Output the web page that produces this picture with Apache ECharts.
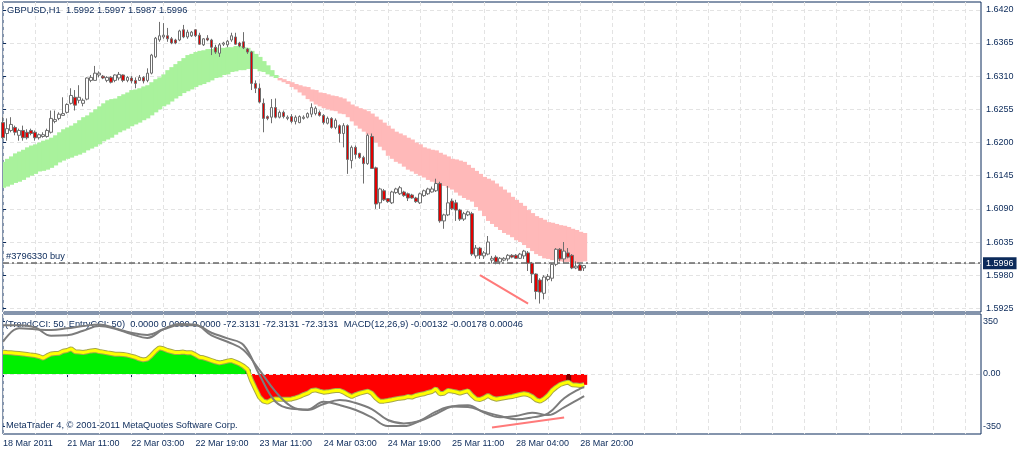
<!DOCTYPE html>
<html lang="en">
<head>
<meta charset="UTF-8">
<title>GBPUSD,H1</title>
<script src="https://cdn.jsdelivr.net/npm/echarts@6.0.0/dist/echarts.min.js"></script>
<style>
  html, body { margin: 0; padding: 0; background: #fff; }
  #chart { width: 1018px; height: 451px; }
</style>
</head>
<body>
<div id="chart"></div>
<script>
// ---- data ----
var symbolName = 'GBPUSD,H1';
var tickLabels = ['18 Mar 2011', '21 Mar 11:00', '22 Mar 03:00', '22 Mar 19:00', '23 Mar 11:00',
                  '24 Mar 03:00', '24 Mar 19:00', '25 Mar 11:00', '28 Mar 04:00', '28 Mar 20:00'];
var priceTicks = { min: 1.5925, max: 1.6420, step: 0.0055 };
var cciTicks = { min: -350, max: 350, step: 350 };

var candleOpen = [
  1.6233,1.6215,1.6220,1.6225,1.6212,1.6220,1.6217,1.6220,1.6217,1.6208,
  1.6210,1.6210,1.6217,1.6235,1.6240,1.6245,1.6250,1.6265,1.6275,1.6270,
  1.6265,1.6272,1.6303,1.6303,1.6312,1.6310,1.6303,1.6308,1.6303,1.6307,
  1.6312,1.6303,1.6307,1.6303,1.6303,1.6308,1.6303,1.6315,1.6342,1.6370,
  1.6375,1.6377,1.6372,1.6370,1.6370,1.6387,1.6375,1.6377,1.6387,1.6378,
  1.6362,1.6373,1.6370,1.6358,1.6348,1.6363,1.6362,1.6370,1.6375,1.6365,
  1.6367,1.6355,1.6350,1.6298,1.6290,1.6265,1.6243,1.6242,1.6258,1.6242,
  1.6250,1.6240,1.6243,1.6235,1.6233,1.6240,1.6242,1.6247,1.6248,1.6250,
  1.6245,1.6232,1.6240,1.6225,1.6228,1.6215,1.6228,1.6170,1.6192,1.6182,
  1.6175,1.6165,1.6210,1.6158,1.6100,1.6120,1.6107,1.6100,1.6117,1.6115,
  1.6118,1.6115,1.6113,1.6108,1.6100,1.6112,1.6115,1.6118,1.6120,1.6132,
  1.6070,1.6080,1.6103,1.6100,1.6088,1.6073,1.6080,1.6082,1.6012,1.6025,
  1.6012,1.6015,1.6005,1.6010,1.6002,1.6005,1.6007,1.6013,1.6013,1.6008,
  1.6012,1.6017,1.6000,1.5982,1.5972,1.5950,1.5973,1.5975,1.5998,1.6023,
  1.6007,1.6017,1.6013,1.5992,1.5997,1.5992
];
var candleClose = [
  1.6208,1.6223,1.6230,1.6217,1.6220,1.6208,1.6208,1.6215,1.6208,1.6213,
  1.6213,1.6220,1.6240,1.6238,1.6247,1.6248,1.6263,1.6278,1.6262,1.6275,
  1.6270,1.6307,1.6308,1.6315,1.6315,1.6307,1.6308,1.6300,1.6312,1.6313,
  1.6303,1.6308,1.6302,1.6298,1.6308,1.6302,1.6315,1.6345,1.6373,1.6377,
  1.6378,1.6372,1.6365,1.6365,1.6385,1.6375,1.6383,1.6383,1.6377,1.6363,
  1.6372,1.6370,1.6358,1.6350,1.6362,1.6365,1.6368,1.6377,1.6363,1.6360,
  1.6357,1.6350,1.6298,1.6290,1.6267,1.6240,1.6240,1.6258,1.6242,1.6250,
  1.6243,1.6242,1.6235,1.6242,1.6243,1.6242,1.6248,1.6258,1.6257,1.6245,
  1.6233,1.6240,1.6225,1.6237,1.6215,1.6228,1.6172,1.6192,1.6180,1.6175,
  1.6165,1.6212,1.6157,1.6098,1.6123,1.6105,1.6102,1.6118,1.6123,1.6125,
  1.6112,1.6108,1.6108,1.6102,1.6115,1.6120,1.6123,1.6123,1.6132,1.6070,
  1.6080,1.6100,1.6090,1.6088,1.6073,1.6082,1.6085,1.6015,1.6025,1.6013,
  1.6017,1.6035,1.6008,1.6002,1.6008,1.6008,1.6013,1.6010,1.6008,1.6015,
  1.6020,1.6000,1.5982,1.5953,1.5952,1.5977,1.5978,1.5998,1.6023,1.6007,
  1.6020,1.6010,1.5992,1.5995,1.5988,1.5996
];
var candleHigh = [
  1.6242,1.6240,1.6242,1.6228,1.6223,1.6228,1.6222,1.6223,1.6220,1.6215,
  1.6217,1.6223,1.6253,1.6253,1.6250,1.6275,1.6265,1.6290,1.6287,1.6295,
  1.6273,1.6308,1.6312,1.6327,1.6318,1.6312,1.6310,1.6310,1.6313,1.6317,
  1.6313,1.6310,1.6310,1.6308,1.6312,1.6310,1.6323,1.6347,1.6375,1.6400,
  1.6398,1.6390,1.6375,1.6372,1.6387,1.6395,1.6387,1.6385,1.6388,1.6382,
  1.6373,1.6378,1.6372,1.6362,1.6365,1.6367,1.6370,1.6382,1.6382,1.6367,
  1.6383,1.6357,1.6352,1.6303,1.6298,1.6273,1.6245,1.6272,1.6273,1.6253,
  1.6253,1.6245,1.6247,1.6245,1.6245,1.6245,1.6250,1.6265,1.6260,1.6253,
  1.6247,1.6243,1.6242,1.6240,1.6230,1.6232,1.6230,1.6195,1.6195,1.6183,
  1.6178,1.6215,1.6215,1.6160,1.6125,1.6123,1.6108,1.6120,1.6125,1.6128,
  1.6120,1.6117,1.6115,1.6110,1.6117,1.6122,1.6125,1.6127,1.6140,1.6135,
  1.6082,1.6128,1.6107,1.6105,1.6090,1.6085,1.6087,1.6085,1.6030,1.6027,
  1.6020,1.6045,1.6012,1.6013,1.6010,1.6010,1.6015,1.6015,1.6015,1.6017,
  1.6022,1.6020,1.6002,1.5983,1.5975,1.5980,1.5982,1.6000,1.6025,1.6025,
  1.6035,1.6025,1.6015,1.6003,1.6000,1.5997
];
var candleLow = [
  1.6206,1.6203,1.6217,1.6212,1.6203,1.6203,1.6205,1.6212,1.6203,1.6205,
  1.6208,1.6208,1.6215,1.6232,1.6237,1.6245,1.6248,1.6263,1.6253,1.6265,
  1.6260,1.6270,1.6300,1.6303,1.6308,1.6305,1.6300,1.6298,1.6300,1.6303,
  1.6300,1.6300,1.6298,1.6290,1.6302,1.6298,1.6300,1.6313,1.6340,1.6367,
  1.6372,1.6367,1.6363,1.6363,1.6368,1.6373,1.6372,1.6375,1.6375,1.6362,
  1.6360,1.6368,1.6345,1.6347,1.6342,1.6360,1.6358,1.6367,1.6362,1.6358,
  1.6355,1.6347,1.6287,1.6282,1.6265,1.6217,1.6237,1.6232,1.6240,1.6240,
  1.6240,1.6237,1.6232,1.6230,1.6232,1.6238,1.6240,1.6242,1.6245,1.6243,
  1.6230,1.6230,1.6223,1.6222,1.6200,1.6192,1.6148,1.6157,1.6173,1.6173,
  1.6132,1.6163,1.6157,1.6090,1.6090,1.6103,1.6100,1.6098,1.6115,1.6113,
  1.6110,1.6103,1.6107,1.6100,1.6098,1.6110,1.6113,1.6117,1.6118,1.6067,
  1.6057,1.6078,1.6088,1.6070,1.6070,1.6070,1.6078,1.6012,1.6008,1.6007,
  1.6007,1.6013,1.6000,1.5998,1.5998,1.6003,1.6003,1.6008,1.6007,1.6007,
  1.6007,1.5987,1.5967,1.5940,1.5933,1.5940,1.5970,1.5970,1.5995,1.6003,
  1.6000,1.6008,1.5990,1.5990,1.5987,1.5987
];

// trend cloud: upper and lower edge per bar, colour flips at cloudTurn
var cloudTop = [
  1.6168,1.6173,1.6177,1.6182,1.6185,1.6188,1.6192,1.6195,1.6197,1.6200,
  1.6203,1.6205,1.6208,1.6212,1.6217,1.6222,1.6225,1.6228,1.6232,1.6237,
  1.6242,1.6245,1.6250,1.6255,1.6260,1.6265,1.6270,1.6272,1.6273,1.6277,
  1.6280,1.6283,1.6287,1.6288,1.6290,1.6293,1.6295,1.6300,1.6305,1.6308,
  1.6313,1.6320,1.6325,1.6330,1.6335,1.6340,1.6345,1.6347,1.6350,1.6352,
  1.6353,1.6355,1.6355,1.6357,1.6357,1.6357,1.6358,1.6358,1.6360,1.6360,
  1.6358,1.6357,1.6352,1.6347,1.6342,1.6335,1.6328,1.6320,1.6312,1.6307,
  1.6305,1.6302,1.6300,1.6297,1.6295,1.6293,1.6292,1.6288,1.6287,1.6283,
  1.6282,1.6280,1.6278,1.6277,1.6275,1.6273,1.6268,1.6263,1.6260,1.6257,
  1.6255,1.6252,1.6248,1.6243,1.6238,1.6233,1.6228,1.6223,1.6218,1.6215,
  1.6212,1.6208,1.6205,1.6200,1.6197,1.6192,1.6190,1.6188,1.6187,1.6183,
  1.6180,1.6177,1.6173,1.6172,1.6170,1.6168,1.6163,1.6158,1.6153,1.6148,
  1.6143,1.6140,1.6137,1.6132,1.6127,1.6122,1.6117,1.6110,1.6105,1.6100,
  1.6095,1.6088,1.6083,1.6078,1.6075,1.6072,1.6068,1.6067,1.6065,1.6063,
  1.6062,1.6060,1.6057,1.6055,1.6052,1.6050
];
var cloudBottom = [
  1.6125,1.6127,1.6130,1.6133,1.6135,1.6138,1.6142,1.6145,1.6148,1.6152,
  1.6153,1.6155,1.6158,1.6162,1.6167,1.6170,1.6173,1.6175,1.6178,1.6180,
  1.6183,1.6187,1.6190,1.6193,1.6197,1.6202,1.6205,1.6208,1.6213,1.6217,
  1.6220,1.6223,1.6227,1.6230,1.6233,1.6237,1.6240,1.6245,1.6250,1.6255,
  1.6260,1.6263,1.6268,1.6273,1.6277,1.6282,1.6285,1.6288,1.6292,1.6295,
  1.6297,1.6300,1.6303,1.6307,1.6308,1.6312,1.6313,1.6317,1.6318,1.6320,
  1.6320,1.6322,1.6322,1.6322,1.6318,1.6317,1.6313,1.6310,1.6307,1.6303,
  1.6300,1.6297,1.6292,1.6288,1.6283,1.6278,1.6272,1.6268,1.6263,1.6260,
  1.6257,1.6255,1.6253,1.6252,1.6248,1.6247,1.6242,1.6235,1.6228,1.6223,
  1.6218,1.6213,1.6207,1.6200,1.6193,1.6187,1.6178,1.6173,1.6168,1.6165,
  1.6160,1.6155,1.6152,1.6148,1.6145,1.6142,1.6138,1.6135,1.6133,1.6130,
  1.6128,1.6125,1.6122,1.6117,1.6112,1.6108,1.6105,1.6102,1.6093,1.6087,
  1.6078,1.6070,1.6065,1.6060,1.6055,1.6050,1.6047,1.6043,1.6038,1.6035,
  1.6030,1.6025,1.6020,1.6015,1.6012,1.6008,1.6007,1.6005,1.6005,1.6003,
  1.6002,1.6002,1.6000,1.6000,1.6002,1.6003
];
var cloudTurn = 69;

var orderPrice = 1.5998;
var orderLabel = '#3796330 buy';
var priceTrend = [[119, 1.5980], [131, 1.5933]];

// sub window
var cci = [
  145.5,143,141,139,137,134,130,126,123,117,
  106,121,134,137,139,152,157,168,148,146,
  143,148,154,157,150,146,141,137,132,132,
  130,126,119,112,101,94,99,123,152,174,
  168,157,150,143,143,146,141,141,128,112,
  108,99,90,81,74,79,86,90,79,68,
  52,30,-43,-99,-154,-181,-188,-172,-166,-168,
  -168,-168,-166,-159,-150,-137,-128,-110,-106,-114,
  -121,-119,-114,-110,-110,-121,-137,-150,-137,-128,
  -121,-114,-128,-159,-181,-181,-177,-172,-166,-161,
  -159,-150,-154,-143,-137,-132,-123,-117,-99,-132,
  -128,-110,-114,-119,-128,-119,-112,-143,-166,-170,
  -159,-143,-159,-168,-163,-159,-154,-150,-143,-137,
  -132,-137,-150,-172,-181,-166,-143,-110,-88,-70,
  -61,-54,-72,-74,-76,-72.3
];
var entryCci = [[61, 30], [141, -50]];
var macdMain = [
  [0,0.00109],[4,0.00180],[8,0.00175],[12,0.00171],[16,0.00180],[20,0.00192],[24,0.00201],
  [28,0.00180],[32,0.00157],[36,0.00145],[40,0.00175],[44,0.00196],[48,0.00196],[52,0.00157],
  [56,0.00127],[60,0.00092],[64,-0.00067],[68,-0.00208],[72,-0.00245],[76,-0.00249],[80,-0.00208],
  [84,-0.00226],[88,-0.00252],[92,-0.00291],[96,-0.00337],[100,-0.00337],[104,-0.00309],
  [108,-0.00261],[112,-0.00234],[116,-0.00236],[120,-0.00261],[124,-0.00284],[128,-0.00301],
  [132,-0.00291],[136,-0.00270],[140,-0.00190],[144,-0.00139],[145,-0.00132]
];
var macdSignal = [
  [0,0.00197],[4,0.00197],[8,0.00185],[12,0.00141],[16,0.00143],[20,0.00167],[24,0.00192],
  [28,0.00178],[32,0.00150],[36,0.00129],[40,0.00175],[44,0.00203],[48,0.00199],[52,0.00143],
  [56,0.00109],[60,0.00065],[64,-0.00041],[68,-0.00155],[72,-0.00234],[76,-0.00252],[80,-0.00220],
  [84,-0.00199],[88,-0.00215],[92,-0.00247],[96,-0.00305],[100,-0.00323],[104,-0.00310],
  [108,-0.00273],[112,-0.00234],[116,-0.00227],[120,-0.00266],[124,-0.00291],[128,-0.00284],
  [132,-0.00266],[136,-0.00279],[140,-0.00238],[144,-0.00190],[145,-0.00178]
];
var cciTrend = [[122, -357], [140, -290]];
var subLabel = '(TrendCCI: 50, EntryCCI: 50)  0.0000 0.0000 0.0000 -72.3131 -72.3131 -72.3131  MACD(12,26,9) -0.00132 -0.00178 0.00046';
var copyright = 'MetaTrader 4, \u00a9 2001-2011 MetaQuotes Software Corp.';

// ---- chart ----
var navy = '#0b2a5a';
var gridGray = '#e3e3e3';
var font = '"Liberation Sans", Arial, sans-serif';
var nBars = candleOpen.length;
var nSlots = 245;
var slots = [];
for (var s = 0; s < nSlots; s++) slots.push(String(s));
var last = nBars - 1;
var header = symbolName + '  ' + [candleOpen[last], candleHigh[last], candleLow[last], candleClose[last]]
  .map(function (v) { return v.toFixed(4); }).join(' ');

function everyNth(n) {
  return function (idx) { return idx % n === 0; };
}
function labelTick(idx) { return idx % 16 === 0 && idx < nBars; }

// one full-width column per bar, overlapping a little so no seams show
function rectItem(api, i, a, b, fill) {
  var p0 = api.coord([i, a]);
  var p1 = api.coord([i, b]);
  var w = api.size([1, 0])[0];
  return {
    type: 'rect',
    shape: { x: p0[0] - w / 2, y: Math.min(p0[1], p1[1]), width: w + 1, height: Math.abs(p1[1] - p0[1]) },
    style: { fill: fill, stroke: null }
  };
}

var catAxis = {
  type: 'category', data: slots, boundaryGap: false,
  axisLine: { show: false }, axisTick: { show: false }, axisLabel: { show: false },
  splitLine: { show: true, interval: everyNth(8), lineStyle: { color: gridGray, type: [4, 3] } }
};

var chart = echarts.init(document.getElementById('chart'));
chart.setOption({
  animation: false,
  backgroundColor: '#fff',
  title: [
    { text: header, left: 7, top: 5, padding: 0, z: 10,
      textStyle: { fontSize: 9.3, fontWeight: 'normal', color: navy, fontFamily: font, lineHeight: 11 } },
    { text: subLabel, left: 5, top: 318.5, padding: 0, z: 1,
      textStyle: { fontSize: 9.3, fontWeight: 'normal', color: navy, fontFamily: font, lineHeight: 11 } },
    { text: copyright, left: 6, top: 420, padding: 0, z: 10,
      textStyle: { fontSize: 9.3, fontWeight: 'normal', color: navy, fontFamily: font, lineHeight: 11 } }
  ],
  grid: [
    { left: 3, top: 2, width: 978, height: 310, show: true, borderColor: navy, borderWidth: 1, backgroundColor: '#fff' },
    { left: 3, top: 9.84, width: 978, height: 298.54, show: false },
    { left: 3, top: 314, width: 978, height: 120, show: true, borderColor: navy, borderWidth: 1, backgroundColor: '#fff' },
    { left: 3, top: 321.5, width: 978, height: 105, show: false }
  ],
  xAxis: [
    Object.assign({ gridIndex: 0 }, catAxis),
    { gridIndex: 1, type: 'value', show: false },
    Object.assign({}, catAxis, {
      gridIndex: 2,
      axisTick: { show: true, interval: labelTick, length: 3, lineStyle: { color: navy } },
      axisLabel: {
        show: true, interval: labelTick, align: 'left', margin: 4, color: navy,
        fontSize: 9, fontFamily: font, lineHeight: 11,
        formatter: function (v, idx) { return tickLabels[idx / 16] || ''; }
      }
    }),
    { gridIndex: 3, type: 'value', show: false }
  ],
  yAxis: [
    { gridIndex: 0, type: 'value', min: 1.5919, max: 1.6433, show: false },
    { gridIndex: 1, type: 'value', position: 'right', min: priceTicks.min, max: priceTicks.max,
      interval: priceTicks.step,
      axisLine: { show: false },
      axisTick: { show: true, length: 3, lineStyle: { color: navy } },
      axisLabel: { color: navy, fontSize: 9, fontFamily: font, margin: 5,
        formatter: function (v) { return v.toFixed(4); } },
      splitLine: { show: true, lineStyle: { color: gridGray, type: [4, 3] } } },
    { gridIndex: 2, type: 'value', min: -400, max: 400, show: false },
    { gridIndex: 2, type: 'value', min: -0.00379, max: 0.00256, show: false },
    { gridIndex: 3, type: 'value', position: 'right', min: cciTicks.min, max: cciTicks.max,
      interval: cciTicks.step,
      axisLine: { show: false },
      axisTick: { show: true, length: 2, lineStyle: { color: navy } },
      axisLabel: { color: navy, fontSize: 9, fontFamily: font, margin: 2,
        formatter: function (v) { return v === 0 ? '0.00' : String(v); } },
      splitLine: { show: false } }
  ],
  series: [
    {
      name: 'cloud', type: 'custom', xAxisIndex: 0, yAxisIndex: 0, clip: true, z: 2,
      data: cloudTop.map(function (t, i) { return [i, t, cloudBottom[i]]; }),
      encode: { x: 0, y: [1, 2] },
      renderItem: function (params, api) {
        var i = api.value(0);
        return rectItem(api, i, api.value(1), api.value(2), i >= cloudTurn ? '#ffb9b9' : '#a9f29c');
      }
    },
    {
      name: 'bid', type: 'line', xAxisIndex: 0, yAxisIndex: 0, data: [], z: 3,
      markLine: {
        silent: true, symbol: ['none', 'none'], animation: false,
        lineStyle: { color: '#cfcfcf', width: 1, type: 'solid' },
        label: { position: 'end', distance: 2, color: '#fff', backgroundColor: navy,
          padding: [2, 3, 1, 3], fontSize: 9, fontFamily: font,
          formatter: function () { return candleClose[last].toFixed(4); } },
        data: [{ yAxis: candleClose[last] }]
      }
    },
    {
      name: 'order', type: 'line', xAxisIndex: 0, yAxisIndex: 0, data: [], z: 4,
      markLine: {
        silent: true, symbol: ['none', 'none'], animation: false,
        lineStyle: { color: '#6a6a6a', width: 1.5, type: [6, 3, 2, 3] },
        label: { position: 'insideStartTop', distance: [3, 2], color: navy, fontSize: 9.3,
          fontFamily: font, formatter: orderLabel },
        data: [{ yAxis: orderPrice }]
      }
    },
    {
      name: 'price', type: 'candlestick', xAxisIndex: 0, yAxisIndex: 0, barWidth: 3, clip: false, z: 5,
      data: candleOpen.map(function (o, i) { return [o, candleClose[i], candleLow[i], candleHigh[i]]; }),
      itemStyle: { color: '#ffffff', color0: '#e20000', borderColor: '#6e6e6e', borderColor0: '#6e6e6e', borderWidth: 1 }
    },
    {
      name: 'priceTrend', type: 'line', xAxisIndex: 0, yAxisIndex: 0, data: priceTrend, z: 6,
      showSymbol: false, lineStyle: { color: '#ff7a7a', width: 2 }
    },
    {
      name: 'zero', type: 'line', xAxisIndex: 2, yAxisIndex: 2, data: [], z: 1,
      markLine: {
        silent: true, symbol: ['none', 'none'], animation: false, label: { show: false },
        lineStyle: { color: gridGray, width: 1, type: [4, 3] },
        data: [{ yAxis: 0 }]
      }
    },
    {
      name: 'TrendCCI', type: 'custom', xAxisIndex: 2, yAxisIndex: 2, clip: true, z: 2,
      data: cci.map(function (v, i) { return [i, v]; }),
      encode: { x: 0, y: 1 },
      renderItem: function (params, api) {
        var v = api.value(1);
        return rectItem(api, api.value(0), 0, v, v >= 0 ? '#00f000' : '#ff0000');
      }
    },
    {
      name: 'EntryCCI', type: 'custom', xAxisIndex: 2, yAxisIndex: 2, clip: true, z: 3,
      data: entryCci,
      encode: { x: 0, y: 1 },
      renderItem: function (params, api) {
        var v = api.value(1);
        return rectItem(api, api.value(0), 0, v, v >= 0 ? '#006a00' : '#7a0000');
      }
    },
    {
      name: 'cciEdge', type: 'line', xAxisIndex: 2, yAxisIndex: 2, data: cci, z: 4,
      showSymbol: false, lineStyle: { color: '#a6a64a', width: 5 }
    },
    {
      name: 'cciLine', type: 'line', xAxisIndex: 2, yAxisIndex: 2, data: cci, z: 5,
      showSymbol: false, lineStyle: { color: '#ffff00', width: 3 }
    },
    {
      name: 'MACD', type: 'line', xAxisIndex: 2, yAxisIndex: 3, data: macdMain, z: 6,
      smooth: 0.4, showSymbol: false, lineStyle: { color: '#7c7c7c', width: 2 }
    },
    {
      name: 'Signal', type: 'line', xAxisIndex: 2, yAxisIndex: 3, data: macdSignal, z: 6,
      smooth: 0.4, showSymbol: false, lineStyle: { color: '#7c7c7c', width: 2 }
    },
    {
      name: 'cciTrend', type: 'line', xAxisIndex: 2, yAxisIndex: 2, data: cciTrend, z: 7,
      showSymbol: false, lineStyle: { color: '#ff7a7a', width: 2 }
    }
  ]
});
</script>
</body>
</html>
